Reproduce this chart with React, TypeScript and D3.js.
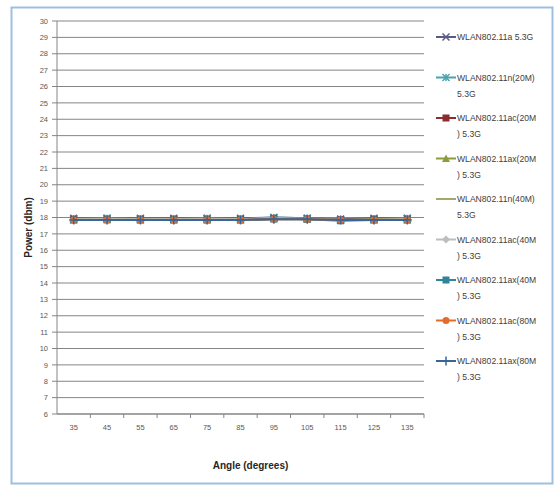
import React from "react";
import * as d3 from "d3";

const angles = ["35", "45", "55", "65", "75", "85", "95", "105", "115", "125", "135"];
const yTicks = d3.range(6, 31, 1);

const seriesNames: string[][] = [
  ["WLAN802.11a 5.3G"],
  ["WLAN802.11n(20M)", "5.3G"],
  ["WLAN802.11ac(20M", ") 5.3G"],
  ["WLAN802.11ax(20M", ") 5.3G"],
  ["WLAN802.11n(40M)", "5.3G"],
  ["WLAN802.11ac(40M", ") 5.3G"],
  ["WLAN802.11ax(40M", ") 5.3G"],
  ["WLAN802.11ac(80M", ") 5.3G"],
  ["WLAN802.11ax(80M", ") 5.3G"],
];

const s11a = [17.95, 17.95, 17.95, 17.95, 17.95, 17.95, 18.0, 17.95, 17.9, 17.95, 17.95];
const s11n20 = [17.9, 17.95, 17.9, 17.9, 17.95, 17.9, 18.0, 17.95, 17.85, 17.9, 17.95];
const s11ac20 = [17.9, 17.9, 17.9, 17.9, 17.9, 17.9, 17.95, 17.9, 17.85, 17.9, 17.9];
const s11ax20 = [17.85, 17.9, 17.85, 17.85, 17.85, 17.85, 17.95, 17.9, 17.85, 17.85, 17.85];
const s11n40 = [17.9, 17.9, 17.9, 17.9, 17.9, 17.9, 17.95, 17.9, 17.85, 17.9, 17.9];
const s11ac40 = [17.9, 17.9, 17.9, 17.9, 17.9, 17.9, 17.95, 17.9, 17.85, 17.85, 17.9];
const s11ax40 = [17.85, 17.85, 17.85, 17.85, 17.85, 17.85, 17.9, 17.9, 17.8, 17.85, 17.85];
const s11ac80 = [17.85, 17.85, 17.85, 17.85, 17.85, 17.85, 17.9, 17.9, 17.85, 17.85, 17.85];
const s11ax80 = [17.85, 17.85, 17.85, 17.85, 17.85, 17.85, 17.9, 17.9, 17.85, 17.85, 17.85];

const seriesValues = [s11a, s11n20, s11ac20, s11ax20, s11n40, s11ac40, s11ax40, s11ac80, s11ax80];
const seriesColors = ["#5a5a84", "#4aa3ac", "#8b2d2d", "#8c9b3c", "#a3a86c", "#bdbdbd", "#31849b", "#e46c2a", "#3a6596"];
const seriesMarkers = ["x", "star", "square", "triangle", "none", "diamond", "square", "circle", "plus"];

function Marker({ type, x, y, color }: { type: string; x: number; y: number; color: string }) {
  const r = 3.5;
  switch (type) {
    case "x":
      return (
        <g stroke={color} strokeWidth={1.5}>
          <line x1={x - r} y1={y - r} x2={x + r} y2={y + r} />
          <line x1={x - r} y1={y + r} x2={x + r} y2={y - r} />
        </g>
      );
    case "star":
      return (
        <g stroke={color} strokeWidth={1.5}>
          <line x1={x - r} y1={y - r} x2={x + r} y2={y + r} />
          <line x1={x - r} y1={y + r} x2={x + r} y2={y - r} />
          <line x1={x} y1={y - r} x2={x} y2={y + r} />
        </g>
      );
    case "square":
      return <rect x={x - r} y={y - r} width={2 * r} height={2 * r} fill={color} />;
    case "triangle":
      return <path d={`M${x},${y - r - 0.5}L${x + r + 0.5},${y + r}L${x - r - 0.5},${y + r}Z`} fill={color} />;
    case "diamond":
      return <path d={`M${x},${y - r - 0.5}L${x + r + 0.5},${y}L${x},${y + r + 0.5}L${x - r - 0.5},${y}Z`} fill={color} />;
    case "circle":
      return <circle cx={x} cy={y} r={r} fill={color} />;
    case "plus":
      return (
        <g stroke={color} strokeWidth={1.5}>
          <line x1={x - r - 1} y1={y} x2={x + r + 1} y2={y} />
          <line x1={x} y1={y - r - 1} x2={x} y2={y + r + 1} />
        </g>
      );
    default:
      return null;
  }
}

export default function App() {
  const W = 557;
  const H = 487;
  const plot = { left: 57, right: 424, top: 21, bottom: 414 };
  const x = d3.scaleBand<string>().domain(angles).range([plot.left, plot.right]).paddingInner(0).paddingOuter(0);
  const y = d3.scaleLinear().domain([6, 30]).range([plot.bottom, plot.top]);
  const line = d3
    .line<number>()
    .x((_, i) => (x(angles[i]) as number) + x.bandwidth() / 2)
    .y((d) => y(d));

  const font = "'Liberation Sans', Arial, sans-serif";
  const legendX = 436;
  const legendY0 = 37;
  const legendStep = 40.5;

  return (
    <svg width={W} height={H} style={{ position: "absolute", left: 0, top: 0, background: "#fff" }} fontFamily={font}>
      <rect x={11.5} y={7.5} width={541} height={476} fill="#fff" stroke="#9cc0e4" strokeWidth={2} />
      {yTicks.map((t) => (
        <g key={t}>
          <line x1={plot.left} x2={plot.right} y1={y(t)} y2={y(t)} stroke="#858585" strokeWidth={1} />
          <line x1={plot.left - 5} x2={plot.left} y1={y(t)} y2={y(t)} stroke="#858585" strokeWidth={1} />
          <text x={48} y={y(t)} dy="0.35em" textAnchor="end" fontSize={7.5} fill="#595959">
            {t}
          </text>
        </g>
      ))}
      <line x1={plot.left} x2={plot.left} y1={plot.top} y2={plot.bottom} stroke="#858585" strokeWidth={1} />
      <line x1={plot.left} x2={plot.right} y1={plot.bottom} y2={plot.bottom} stroke="#858585" strokeWidth={1} />
      {angles.map((a) => (
        <line
          key={"tk" + a}
          x1={(x(a) as number) + x.bandwidth()}
          x2={(x(a) as number) + x.bandwidth()}
          y1={plot.bottom}
          y2={plot.bottom + 4}
          stroke="#858585"
        />
      ))}
      {angles.map((a) => (
        <text
          key={"xl" + a}
          x={(x(a) as number) + x.bandwidth() / 2}
          y={plot.bottom + 13}
          dy="0.35em"
          textAnchor="middle"
          fontSize={7.5}
          fill="#595959"
        >
          {a}
        </text>
      ))}
      <text x={(plot.left + plot.right) / 2 + 10} y={465} dy="0.35em" textAnchor="middle" fontSize={10} fontWeight="bold" fill="#262626">
        Angle (degrees)
      </text>
      <text
        transform={`translate(28, ${(plot.top + plot.bottom) / 2 + 10}) rotate(-90)`}
        dy="0.35em"
        textAnchor="middle"
        fontSize={10}
        fontWeight="bold"
        fill="#262626"
      >
        Power (dbm)
      </text>
      {seriesValues.map((vals, si) => (
        <g key={"s" + si}>
          <path d={line(vals) as string} fill="none" stroke={seriesColors[si]} strokeWidth={2} />
          {vals.map((v, i) => (
            <Marker
              key={i}
              type={seriesMarkers[si]}
              x={(x(angles[i]) as number) + x.bandwidth() / 2}
              y={y(v)}
              color={seriesColors[si]}
            />
          ))}
        </g>
      ))}
      {seriesNames.map((lines, si) => {
        const ly = legendY0 + si * legendStep;
        return (
          <g key={"lg" + si}>
            <line x1={legendX} x2={legendX + 20} y1={ly} y2={ly} stroke={seriesColors[si]} strokeWidth={2} />
            <Marker type={seriesMarkers[si]} x={legendX + 10} y={ly} color={seriesColors[si]} />
            {lines.map((l, li) => (
              <text key={li} x={legendX + 21} y={ly + li * 16} dy="0.35em" fontSize={8.6} fill="#404040">
                {l}
              </text>
            ))}
          </g>
        );
      })}
    </svg>
  );
}
